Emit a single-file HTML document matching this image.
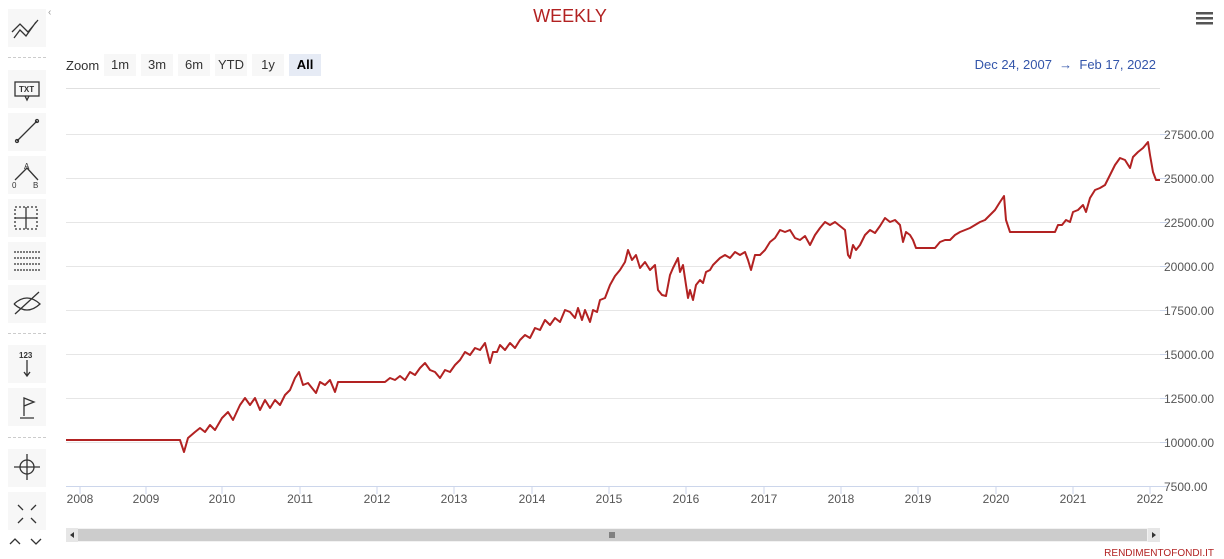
<!DOCTYPE html>
<html><head><meta charset="utf-8"><style>
body{margin:0;width:1224px;height:559px;background:#fff;font-family:"Liberation Sans",sans-serif;overflow:hidden;position:relative}
.tb{position:absolute;left:8px;width:38px;height:38px;background:#f7f7f7}
.sep{position:absolute;left:8px;width:38px;border-top:1px dashed #ccc}
.btn{position:absolute;top:54px;height:22px;line-height:22px;font-size:13px;color:#333;background:#f7f7f7;text-align:center}
</style></head><body>
<div class="tb" style="top:9px"></div>
<div class="sep" style="top:57px"></div>
<div class="tb" style="top:70px"></div>
<div class="tb" style="top:113px"></div>
<div class="tb" style="top:156px"></div>
<div class="tb" style="top:199px"></div>
<div class="tb" style="top:242px"></div>
<div class="tb" style="top:285px"></div>
<div class="sep" style="top:333px"></div>
<div class="tb" style="top:345px"></div>
<div class="tb" style="top:388px"></div>
<div class="sep" style="top:437px"></div>
<div class="tb" style="top:449px"></div>
<div class="tb" style="top:492px"></div>
<svg style="position:absolute;left:0;top:0" width="1224" height="559">
<g stroke="#333" fill="none" stroke-width="1.3">
<path d="M14 38 L20 30 L26 36 L36 22 M12 32 L20 24 L28 32 L38 20"/>
<rect x="15" y="82" width="24" height="14"/><path d="M25 96 l2 4 l2-4"/>
<path d="M17 141 L37 121"/><circle cx="17" cy="141" r="1.5"/><circle cx="37" cy="121" r="1.5"/>
<path d="M15 180 L27 168 L38 180"/>
<rect x="15" y="207" width="22" height="22" stroke-dasharray="2 2"/><path d="M26 207v22M15 218h22"/>
<path d="M14 252h26M14 258h26M14 264h26M14 270h26" stroke-dasharray="2 1"/>
<path d="M14 304 q13-12 26 0 q-13 12-26 0 M15 314 L39 292"/>
<path d="M27 360v15 M24 372 l3 4 l3-4"/>
<path d="M20 418 h14 M24 416 V398 l10 4 l-10 4"/>
<circle cx="27" cy="467" r="7"/><path d="M14 467h26M27 454v26"/>
<path d="M18 505l5 5M36 505l-5 5M18 523l5-5M36 523l-5-5"/>
<path d="M10 544l5-5 5 5M31 539l5 5 5-5"/>
</g>
<text x="24" y="169" font-size="8" fill="#333">A</text><text x="12" y="188" font-size="8" fill="#333">0</text><text x="33" y="188" font-size="8" fill="#333">B</text>
<text x="19" y="92" font-size="8" font-weight="bold" fill="#333">TXT</text>
<text x="19" y="358" font-size="8" font-weight="bold" fill="#333">123</text>
<text x="48" y="15" font-size="10" fill="#999">‹</text>
<text x="570" y="22" font-size="18" fill="#b22222" text-anchor="middle">WEEKLY</text>
<g fill="#555"><rect x="1196" y="12" width="17" height="2.5"/><rect x="1196" y="17" width="17" height="2.5"/><rect x="1196" y="22" width="17" height="2.5"/></g>
<text x="66" y="70" font-size="13" fill="#333">Zoom</text>
<text x="1156" y="69" font-size="13" fill="#3355aa" text-anchor="end">Dec 24, 2007 &#160;→ &#160;Feb 17, 2022</text>
<line x1="66" y1="88.5" x2="1160" y2="88.5" stroke="#e0e0e0"/>
<g stroke="#e6e6e6">
<line x1="66" y1="134.5" x2="1160" y2="134.5"/><line x1="66" y1="178.5" x2="1160" y2="178.5"/>
<line x1="66" y1="222.5" x2="1160" y2="222.5"/><line x1="66" y1="266.5" x2="1160" y2="266.5"/>
<line x1="66" y1="310.5" x2="1160" y2="310.5"/><line x1="66" y1="354.5" x2="1160" y2="354.5"/>
<line x1="66" y1="398.5" x2="1160" y2="398.5"/><line x1="66" y1="442.5" x2="1160" y2="442.5"/>
</g>
<line x1="66" y1="486.5" x2="1168" y2="486.5" stroke="#ccd6eb"/>
<g stroke="#ccd6eb">
<path d="M80 486v8M146 486v8M222 486v8M300 486v8M377 486v8M454 486v8M532 486v8M609 486v8M686 486v8M764 486v8M841 486v8M918 486v8M996 486v8M1073 486v8M1150 486v8"/>
<path d="M1160 134.5h8M1160 178.5h8M1160 222.5h8M1160 266.5h8M1160 310.5h8M1160 354.5h8M1160 398.5h8M1160 442.5h8"/>
</g>
<g font-size="12" fill="#555" text-anchor="middle">
<text x="80" y="503">2008</text><text x="146" y="503">2009</text><text x="222" y="503">2010</text><text x="300" y="503">2011</text><text x="377" y="503">2012</text><text x="454" y="503">2013</text><text x="532" y="503">2014</text><text x="609" y="503">2015</text><text x="686" y="503">2016</text><text x="764" y="503">2017</text><text x="841" y="503">2018</text><text x="918" y="503">2019</text><text x="996" y="503">2020</text><text x="1073" y="503">2021</text><text x="1150" y="503">2022</text>
</g>
<g font-size="12" fill="#555">
<text x="1164" y="139">27500.00</text><text x="1164" y="183">25000.00</text><text x="1164" y="227">22500.00</text><text x="1164" y="271">20000.00</text><text x="1164" y="315">17500.00</text><text x="1164" y="359">15000.00</text><text x="1164" y="403">12500.00</text><text x="1164" y="447">10000.00</text><text x="1164" y="491">7500.00</text>
</g>
<polyline fill="none" stroke="#b22222" stroke-width="2" stroke-linejoin="round" points="66,440 180,440 184,452 188,438 195,432 200,428 205,432 210,425 215,430 222,418 228,412 233,420 240,405 245,398 250,405 255,398 260,410 265,400 270,408 275,400 280,405 285,395 290,390 295,378 299,372 303,385 308,383 312,388 316,393 320,382 325,385 330,380 335,392 338,382 342,382 385,382 390,378 395,380 400,376 405,380 410,372 415,375 420,368 425,363 430,370 435,372 440,378 445,370 450,372 455,365 460,360 465,352 470,355 475,348 480,350 485,343 488,355 490,363 493,352 497,352 500,345 505,350 510,343 515,348 520,340 525,335 530,338 535,328 540,330 545,320 550,325 555,318 560,322 565,310 570,312 575,318 578,308 582,320 585,310 590,322 593,310 597,312 600,300 605,298 610,285 615,276 620,270 625,262 628,250 632,260 636,255 640,268 645,262 650,270 655,265 658,290 662,295 666,296 670,275 673,268 676,262 678,258 680,272 683,265 686,285 688,298 690,290 693,300 696,285 700,280 703,283 706,272 710,270 713,265 716,262 720,258 725,255 730,258 735,252 740,255 745,252 748,260 751,270 755,255 760,255 765,250 770,242 775,238 780,230 785,232 790,230 795,238 800,240 805,236 810,245 815,235 820,228 825,222 830,225 835,222 840,226 845,230 848,255 850,258 853,245 856,250 860,245 865,235 870,230 875,233 880,226 885,218 890,222 895,220 900,225 903,242 906,232 910,235 913,240 916,248 935,248 940,242 945,240 950,240 955,235 960,232 965,230 970,228 975,225 980,222 985,220 990,215 995,210 1000,202 1004,196 1006,220 1010,232 1055,232 1058,225 1062,225 1066,220 1070,222 1073,212 1078,210 1083,205 1086,212 1090,198 1095,190 1100,188 1105,185 1110,175 1115,165 1120,158 1125,160 1130,168 1133,157 1138,152 1143,148 1148,142 1150,155 1153,172 1156,180 1160,180"/>
<rect x="66" y="528" width="1094" height="14" fill="#f2f2f2"/>
<rect x="78" y="529" width="1069" height="12" fill="#ccc"/>
<rect x="66" y="528" width="12" height="14" fill="#e6e6e6"/><rect x="1148" y="528" width="12" height="14" fill="#e6e6e6"/>
<path d="M74 532 l-4 3 l4 3z M1152 532 l4 3 l-4 3z" fill="#333"/>
<path d="M610 532v6M612 532v6M614 532v6" stroke="#333"/>
<text x="1214" y="556" font-size="10" fill="#b22222" text-anchor="end">RENDIMENTOFONDI.IT</text>
</svg>
<div class="btn" style="left:104px;width:32px">1m</div>
<div class="btn" style="left:141px;width:32px">3m</div>
<div class="btn" style="left:178px;width:32px">6m</div>
<div class="btn" style="left:215px;width:32px">YTD</div>
<div class="btn" style="left:252px;width:32px">1y</div>
<div class="btn" style="left:289px;width:32px;background:#e6ebf5;font-weight:bold;color:#000">All</div>
</body></html>
